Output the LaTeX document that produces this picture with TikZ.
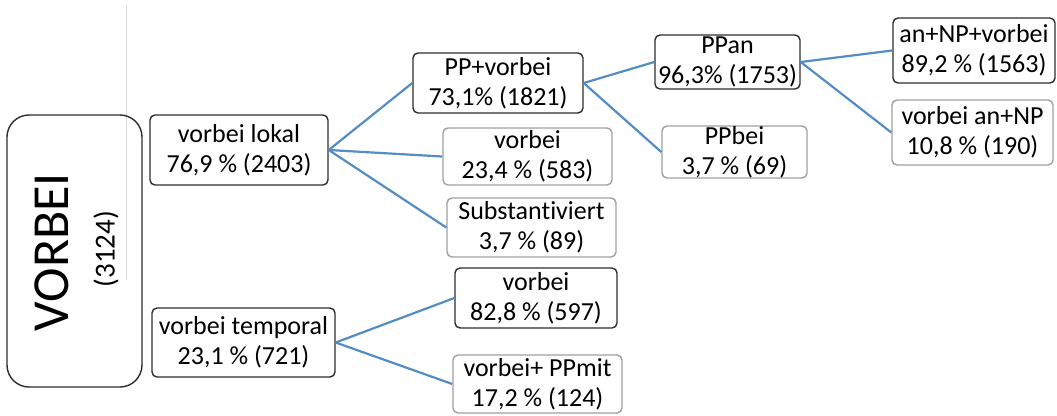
\documentclass[tikz,border=0pt]{standalone}
\usepackage{fontspec}
\setmainfont[Ligatures=NoCommon]{Carlito}
\definecolor{linkblue}{RGB}{84,141,196}
\definecolor{framegrey}{RGB}{160,160,160}
\definecolor{framedark}{RGB}{45,45,45}

\begin{document}
\begin{tikzpicture}[x=1pt, y=-1pt,
  darkbox/.style={draw=framedark, line width=1.4pt, rounded corners=5pt, inner sep=0pt, align=center, font=\fontsize{26}{30}\selectfont},
  greybox/.style={darkbox, draw=framegrey},
  link/.style={draw=linkblue, line width=2.2pt}]
\useasboundingbox (0,0) rectangle (1057,415);

\draw[black!15, line width=0.8pt] (126,6) -- (126,280);

\node[draw=framedark, line width=1.4pt, rounded corners=22pt, minimum width=135, minimum height=272] (root) at (74.5,251) {};
\node[rotate=90, inner sep=0pt, font=\fontsize{52}{52}\selectfont] (rootname) at (52,252) {VORBEI};
\node[rotate=90, inner sep=0pt, font=\fontsize{29}{29}\selectfont] (rootcount) at (106,249) {(3124)};

\node[darkbox, minimum width=178, minimum height=70] (lokal) at (239,150) {vorbei lokal\\76,9 \% (2403)};
\node[darkbox, minimum width=183, minimum height=69] (temporal) at (243.5,342.5) {vorbei temporal\\23,1 \% (721)};

\node[darkbox, minimum width=170, minimum height=60] (ppvorbei) at (498,83) {PP+vorbei\\73,1\% (1821)};
\node[greybox, minimum width=169, minimum height=57] (vorbeilok) at (527.5,156.5) {vorbei\\23,4 \% (583)};
\node[greybox, minimum width=169, minimum height=59] (subst) at (531.5,227.5) {Substantiviert\\3,7 \% (89)};

\node[darkbox, minimum width=145, minimum height=54] (ppan) at (727.5,62) {PPan\\96,3\% (1753)};
\node[greybox, minimum width=145, minimum height=52] (ppbei) at (734.5,152) {PPbei\\3,7 \% (69)};

\node[darkbox, minimum width=162, minimum height=65] (annp) at (974,50.5) {an+NP+vorbei\\89,2 \% (1563)};
\node[greybox, minimum width=161, minimum height=65] (vorbeiannp) at (972.5,132.5) {vorbei an+NP\\10,8 \% (190)};

\node[darkbox, minimum width=162, minimum height=60] (vorbeitemp) at (536,298) {vorbei\\82,8 \% (597)};
\node[greybox, minimum width=169, minimum height=58] (ppmit) at (537.5,384) {vorbei+ PPmit\\17,2 \% (124)};

\draw[link] (lokal.east) -- (ppvorbei.west);
\draw[link] (lokal.east) -- (vorbeilok.west);
\draw[link] (lokal.east) -- (subst.west);
\draw[link] (ppvorbei.east) -- (ppan.west);
\draw[link] (ppvorbei.east) -- (ppbei.west);
\draw[link] (ppan.east) -- (annp.west);
\draw[link] (ppan.east) -- (vorbeiannp.west);
\draw[link] (temporal.east) -- (vorbeitemp.west);
\draw[link] (temporal.east) -- (ppmit.west);

\end{tikzpicture}
\end{document}
